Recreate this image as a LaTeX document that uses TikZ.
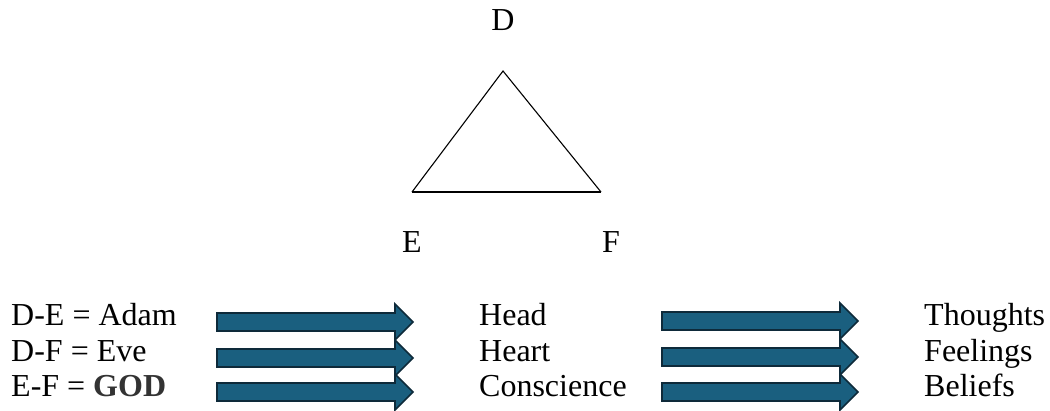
\documentclass[tikz,border=0pt]{standalone}
\usepackage{fontspec}
\setmainfont{Liberation Serif}
\definecolor{arrowfill}{RGB}{26,95,127}
\definecolor{arrowedge}{RGB}{14,42,58}
\definecolor{baseline}{RGB}{40,90,115}
\tikzset{
  x=1pt, y=-1pt,
  lbl/.style={anchor=base west, inner sep=0pt, font=\fontsize{32}{36}\selectfont},
  vlbl/.style={anchor=base, inner sep=0pt, font=\fontsize{32}{36}\selectfont},
  side/.style={line width=1.1pt, black},
  blockarrow/.style={fill=arrowfill, draw=arrowedge, line width=1.6pt, line join=miter},
  barrow/.pic={\draw[blockarrow] (0,-9) -- (178,-9) -- (178,-18) -- (196,0)
     -- (178,18) -- (178,9) -- (0,9) -- cycle;}
}
\begin{document}
\begin{tikzpicture}
\useasboundingbox (0,0) rectangle (1050,410);

% triangle
\coordinate (apex) at (503,71);
\coordinate (ve) at (412,192);
\coordinate (vf) at (601,192);
\draw[side] (ve) -- (apex) -- (vf);
\draw[line width=1.1pt, baseline] (ve) -- (vf);
\node[vlbl] (labD) at (503,30) {D};
\node[vlbl] (labE) at (412,252) {E};
\node[vlbl] (labF) at (611,252) {F};

% left column
\node[lbl] (de) at (11,325) {D-E = Adam};
\node[lbl] (df) at (11,361) {D-F = Eve};
\node[lbl] (ef) at (11,396) {E-F = \textbf{\color{black!80}GOD}};

% block arrows
\pic at (217,322) {barrow};
\pic at (217,358) {barrow};
\pic at (217,392) {barrow};
\pic at (662,321) {barrow};
\pic at (662,357) {barrow};
\pic at (662,392) {barrow};

% middle column
\node[lbl] (head) at (479,325) {Head};
\node[lbl] (heart) at (479,361) {Heart};
\node[lbl] (consc) at (479,396) {Conscience};

% right column
\node[lbl] (thoughts) at (924,325) {Thoughts};
\node[lbl] (feelings) at (924,361) {Feelings};
\node[lbl] (beliefs) at (924,396) {Beliefs};
\end{tikzpicture}
\end{document}
